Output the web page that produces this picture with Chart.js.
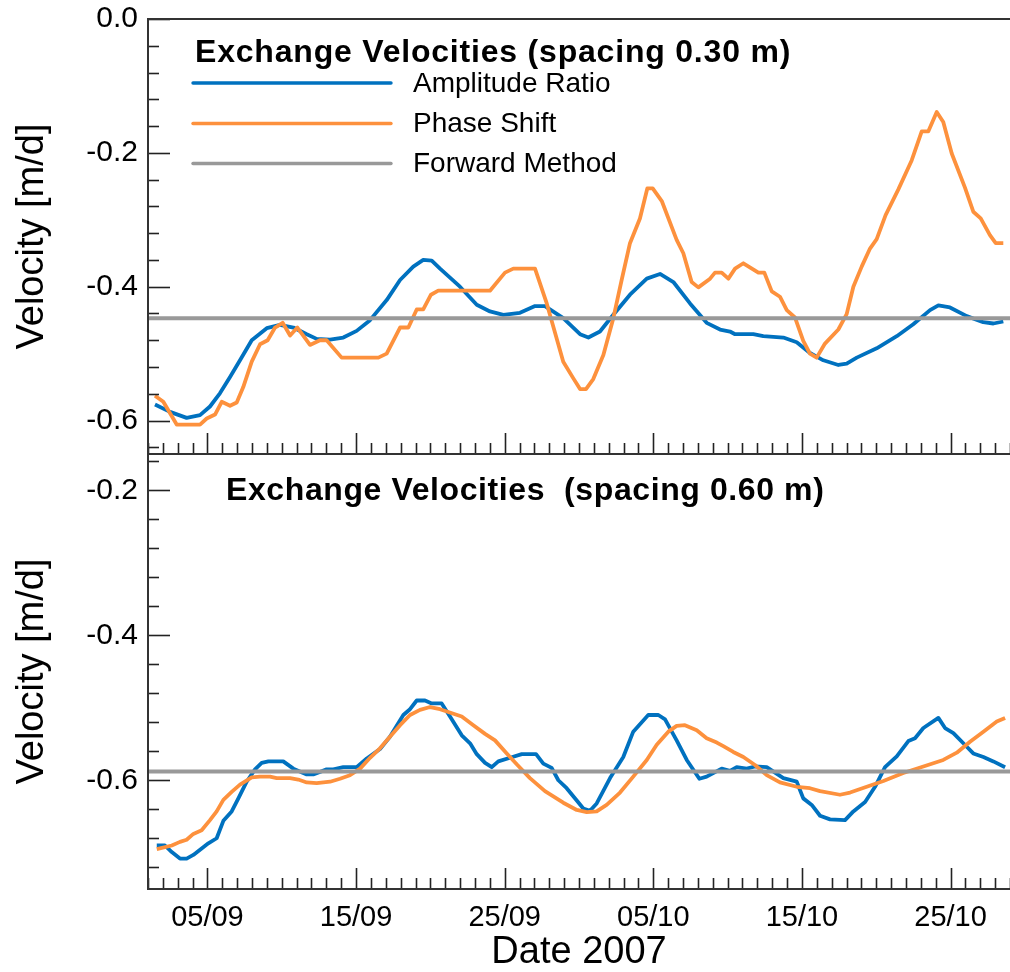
<!DOCTYPE html>
<html><head><meta charset="utf-8">
<script src="https://cdn.jsdelivr.net/npm/chart.js@4.4.1/dist/chart.umd.min.js"></script>
<style>html,body{margin:0;padding:0;background:#fff;}#wrap{position:relative;width:1010px;height:972px;}</style>
</head><body><div id="wrap"><canvas id="c" width="1010" height="972"></canvas></div>
<script>
// x values are days counted from 01/09/2007 00:00 (day 1); 35 = 05/10
const xTickValues = [5, 15, 25, 35, 45, 55];
const xTickLabels = ['05/09', '15/09', '25/09', '05/10', '15/10', '25/10'];
const yTopTickValues = [0, -0.2, -0.4, -0.6];
const yTopTickLabels = ['0.0', '-0.2', '-0.4', '-0.6'];
const yBotTickValues = [-0.2, -0.4, -0.6];
const yBotTickLabels = ['-0.2', '-0.4', '-0.6'];

const seriesNames = ['Amplitude Ratio', 'Phase Shift', 'Forward Method'];
const panelTitles = ['Exchange Velocities (spacing 0.30 m)', 'Exchange Velocities  (spacing 0.60 m)'];

// spacing 0.30 m
const topAmpDays = [1.47,2.48,3.60,4.50,5.17,5.85,6.52,7.19,7.98,8.99,
  9.88,10.78,11.68,12.35,13.25,14.14,15.04,15.94,17.06,17.96,
  18.85,19.52,20.09,20.65,21.99,23.12,24.01,24.91,26.03,27.04,
  27.71,28.94,30.07,30.63,31.41,32.31,33.43,34.56,35.45,36.35,
  37.47,38.59,39.49,40.16,40.50,41.73,42.40,43.75,44.65,45.54,
  46.44,47.45,48.01,48.69,50.03,51.38,52.49,53.62,54.18,54.96,
  56.09,57.20,57.88,58.55];
const topAmpVel = [-0.576,-0.587,-0.596,-0.592,-0.579,-0.559,-0.535,-0.510,-0.480,-0.462,
  -0.457,-0.461,-0.471,-0.478,-0.479,-0.476,-0.466,-0.450,-0.420,-0.390,
  -0.370,-0.360,-0.361,-0.373,-0.400,-0.427,-0.437,-0.442,-0.439,-0.429,
  -0.429,-0.447,-0.471,-0.476,-0.467,-0.442,-0.412,-0.388,-0.381,-0.393,
  -0.425,-0.454,-0.464,-0.467,-0.471,-0.471,-0.474,-0.476,-0.483,-0.499,
  -0.510,-0.517,-0.515,-0.506,-0.492,-0.474,-0.456,-0.435,-0.428,-0.431,
  -0.444,-0.453,-0.455,-0.452];
const topPhaseDays = [1.47,2.03,2.93,4.50,4.95,5.51,5.96,6.52,6.97,7.41,
  7.98,8.54,9.05,9.55,10.06,10.56,11.05,11.90,12.57,13.02,
  14.03,16.50,17.06,17.96,18.52,19.08,19.52,20.04,20.53,24.01,
  25.02,25.58,27.04,27.83,28.94,29.62,30.07,30.47,30.96,31.64,
  32.31,32.87,33.43,34.10,34.60,34.96,35.57,36.57,37.02,37.58,
  38.03,38.82,39.15,39.60,40.05,40.50,41.06,42.07,42.47,42.97,
  43.52,43.98,44.53,45.09,45.54,45.99,46.55,47.45,48.01,48.46,
  49.02,49.58,50.03,50.63,51.48,52.39,53.06,53.50,54.07,54.51,
  55.08,55.97,56.53,57.03,57.65,58.04,58.55];
const topPhaseVel = [-0.563,-0.572,-0.606,-0.606,-0.597,-0.591,-0.572,-0.578,-0.573,-0.550,
  -0.512,-0.486,-0.480,-0.461,-0.454,-0.473,-0.461,-0.487,-0.480,-0.480,
  -0.506,-0.506,-0.500,-0.461,-0.461,-0.434,-0.434,-0.412,-0.406,-0.406,
  -0.379,-0.373,-0.373,-0.425,-0.512,-0.537,-0.553,-0.553,-0.538,-0.502,
  -0.447,-0.390,-0.335,-0.298,-0.253,-0.253,-0.272,-0.330,-0.350,-0.393,
  -0.401,-0.388,-0.379,-0.379,-0.388,-0.373,-0.365,-0.379,-0.379,-0.407,
  -0.415,-0.435,-0.446,-0.481,-0.500,-0.506,-0.485,-0.464,-0.441,-0.400,
  -0.370,-0.343,-0.329,-0.293,-0.255,-0.211,-0.168,-0.168,-0.139,-0.154,
  -0.201,-0.252,-0.288,-0.298,-0.323,-0.335,-0.335];
const topForward = -0.447;

// spacing 0.60 m
const botAmpDays = [1.59,2.14,2.60,3.15,3.60,4.05,4.61,5.06,5.62,6.07,
  6.63,7.08,7.64,8.20,8.65,9.10,10.10,10.78,11.68,12.12,
  13.02,13.47,14.14,15.04,15.72,16.61,17.28,18.18,18.63,19.08,
  19.64,20.09,20.76,21.32,22.11,22.67,23.12,23.68,24.13,24.57,
  25.36,26.15,27.11,27.60,28.16,28.61,29.17,29.85,30.29,30.74,
  31.19,32.09,32.98,33.65,34.66,35.34,35.79,36.57,37.25,38.10,
  38.59,39.60,40.16,40.61,41.28,41.84,42.63,43.75,44.65,45.09,
  45.66,46.22,46.89,47.90,48.46,49.25,49.92,50.59,51.38,52.16,
  52.61,53.17,54.18,54.63,55.19,55.86,56.53,57.21,57.88,58.67];
const botAmpVel = [-0.690,-0.690,-0.699,-0.708,-0.708,-0.703,-0.694,-0.687,-0.680,-0.656,
  -0.643,-0.625,-0.602,-0.585,-0.576,-0.574,-0.574,-0.584,-0.592,-0.592,
  -0.585,-0.585,-0.582,-0.582,-0.570,-0.557,-0.540,-0.510,-0.502,-0.490,
  -0.490,-0.494,-0.494,-0.512,-0.538,-0.549,-0.564,-0.576,-0.582,-0.574,
  -0.569,-0.564,-0.564,-0.577,-0.583,-0.600,-0.611,-0.628,-0.639,-0.642,
  -0.632,-0.597,-0.568,-0.533,-0.510,-0.510,-0.516,-0.545,-0.572,-0.598,
  -0.595,-0.584,-0.587,-0.582,-0.584,-0.581,-0.582,-0.597,-0.602,-0.625,
  -0.634,-0.649,-0.654,-0.655,-0.643,-0.630,-0.609,-0.582,-0.567,-0.546,
  -0.542,-0.528,-0.514,-0.528,-0.535,-0.549,-0.563,-0.568,-0.574,-0.582];
const botPhaseDays = [1.59,2.60,3.15,3.60,4.05,4.61,5.17,5.62,6.07,6.63,
  7.19,7.98,8.54,9.21,9.66,10.56,11.11,11.68,12.35,13.25,
  13.92,14.59,15.27,15.94,16.61,17.28,17.96,18.63,19.30,19.98,
  20.65,22.11,22.89,23.68,24.35,25.14,25.81,26.70,27.71,28.94,
  29.85,30.52,31.19,31.86,32.76,33.65,34.56,35.23,36.01,36.57,
  37.13,37.92,38.59,39.27,39.71,40.38,41.06,41.84,42.63,43.52,
  44.65,45.54,46.22,47.56,48.24,49.36,50.48,51.82,53.17,54.51,
  55.42,56.31,57.21,58.11,58.67];
const botPhaseVel = [-0.695,-0.690,-0.685,-0.682,-0.674,-0.669,-0.655,-0.643,-0.627,-0.616,
  -0.606,-0.596,-0.595,-0.595,-0.597,-0.597,-0.599,-0.603,-0.604,-0.602,
  -0.598,-0.593,-0.584,-0.569,-0.556,-0.540,-0.524,-0.510,-0.503,-0.499,
  -0.502,-0.512,-0.524,-0.536,-0.545,-0.563,-0.578,-0.597,-0.615,-0.631,
  -0.641,-0.644,-0.643,-0.634,-0.617,-0.595,-0.572,-0.551,-0.533,-0.525,
  -0.524,-0.531,-0.542,-0.548,-0.553,-0.561,-0.568,-0.579,-0.593,-0.603,
  -0.609,-0.611,-0.615,-0.620,-0.617,-0.609,-0.601,-0.590,-0.581,-0.572,
  -0.562,-0.547,-0.533,-0.519,-0.514];
const botForward = -0.588;

const X_MIN = 1, X_MAX = 59;
const FONT = "'Liberation Sans', Arial, Helvetica, sans-serif";
const BLUE = '#0071bf', ORANGE = '#fd913d', GRAY = '#999999', AXIS = '#333333';

const pts = (xs, ys) => xs.map((x, i) => ({x: x, y: ys[i]}));
const flat = v => [{x: X_MIN, y: v}, {x: X_MAX, y: v}];

function lineDs(label, data, axis, color, order, width) {
  return {label: label, data: data, yAxisID: axis, borderColor: color, backgroundColor: color,
    borderWidth: width, pointRadius: 0, pointHoverRadius: 0, tension: 0, fill: false, order: order,
    borderJoinStyle: 'round', borderCapStyle: 'butt'};
}

const decor = {
  id: 'decor',
  afterDatasetsDraw(chart) {
    const ctx = chart.ctx;
    const {left, right} = chart.chartArea;
    const x = chart.scales.x, yTop = chart.scales.yTop, yBot = chart.scales.yBot;
    const tT = yTop.getPixelForValue(yTop.max), tB = yTop.getPixelForValue(yTop.min);
    const bT = yBot.getPixelForValue(yBot.max), bB = yBot.getPixelForValue(yBot.min);
    ctx.save();
    const seg = (x1, y1, x2, y2) => { ctx.beginPath(); ctx.moveTo(x1, y1); ctx.lineTo(x2, y2); ctx.stroke(); };
    // ticks
    ctx.strokeStyle = '#222'; ctx.lineWidth = 1.6;
    for (let d = Math.ceil(X_MIN); d <= X_MAX; d++) {
      const px = Math.round(x.getPixelForValue(d)) + 0.5;
      const len = xTickValues.includes(d) ? 21 : 11;
      seg(px, tB, px, tB - len);
      seg(px, bB, px, bB - len);
    }
    [yTop, yBot].forEach(s => {
      const i0 = Math.ceil(s.min / 0.04 - 1e-9), i1 = Math.floor(s.max / 0.04 + 1e-9);
      for (let i = i0; i <= i1; i++) {
        const py = Math.round(s.getPixelForValue(i * 0.04)) + 0.5;
        const len = (i % 5 === 0) ? 22 : 11;
        seg(left, py, left + len, py);
      }
    });
    // axis lines
    ctx.strokeStyle = AXIS; ctx.lineWidth = 2;
    seg(left, tT, right, tT);
    seg(left, tB, right, tB);
    seg(left, bB, right, bB);
    seg(left, tT - 1, left, bB + 1);
    // panel titles
    ctx.fillStyle = '#000';
    ctx.textBaseline = 'alphabetic'; ctx.textAlign = 'left';
    ctx.font = 'bold 32px ' + FONT;
    try { ctx.letterSpacing = '0.8px'; } catch (e) {}
    ctx.fillText(panelTitles[0], left + 47, tT + 43);
    try { ctx.letterSpacing = '0.6px'; } catch (e) {}
    ctx.fillText(panelTitles[1], left + 78, bT + 45.5);
    try { ctx.letterSpacing = '0px'; } catch (e) {}
    // legend
    const colors = [BLUE, ORANGE, GRAY];
    const rows = [64, 104.5, 144.5];
    ctx.font = '28px ' + FONT;
    ctx.textBaseline = 'middle';
    rows.forEach((ry, i) => {
      ctx.strokeStyle = colors[i]; ctx.lineWidth = 3.4; ctx.lineCap = 'round';
      seg(left + 45, tT + ry, left + 243, tT + ry);
      ctx.fillStyle = '#000';
      ctx.fillText(seriesNames[i], left + 265, tT + ry + 1);
    });
    ctx.restore();
  }
};

const yCommon = (min, max, vals, labels) => ({
  type: 'linear', position: 'left', stack: 'panels', stackWeight: 1, min: min, max: max,
  afterBuildTicks: s => { s.ticks = vals.map(v => ({value: v})); },
  afterFit: s => { s.width = 148; s.paddingTop = 0; s.paddingBottom = 0; },
  ticks: {
    autoSkip: false, padding: 10, color: '#000', font: {family: FONT, size: 30},
    callback: v => { const k = vals.findIndex(t => Math.abs(t - v) < 1e-9); return k >= 0 ? labels[k] : ''; }
  },
  grid: {display: false, drawTicks: false},
  border: {display: false},
  title: {display: true, text: 'Velocity [m/d]', color: '#000', font: {family: FONT, size: 38, lineHeight: 1.2}, padding: {top: 10, bottom: 0}}
});

new Chart(document.getElementById('c'), {
  type: 'line',
  data: {
    datasets: [
      lineDs(seriesNames[2], flat(topForward), 'yTop', GRAY, 0, 4),
      lineDs(seriesNames[1], pts(topPhaseDays, topPhaseVel), 'yTop', ORANGE, 1, 3.8),
      lineDs(seriesNames[0], pts(topAmpDays, topAmpVel), 'yTop', BLUE, 2, 3.8),
      lineDs(seriesNames[2], flat(botForward), 'yBot', GRAY, 0, 4),
      lineDs(seriesNames[1], pts(botPhaseDays, botPhaseVel), 'yBot', ORANGE, 1, 3.8),
      lineDs(seriesNames[0], pts(botAmpDays, botAmpVel), 'yBot', BLUE, 2, 3.8)
    ]
  },
  options: {
    responsive: false, animation: false, devicePixelRatio: 1,
    layout: {padding: {top: 19, left: 0, right: 0, bottom: 0}},
    plugins: {legend: {display: false}, tooltip: {enabled: false}, title: {display: false}},
    events: [],
    scales: {
      x: {
        type: 'linear', position: 'bottom', min: X_MIN, max: X_MAX,
        afterBuildTicks: s => { s.ticks = xTickValues.map(v => ({value: v})); },
        afterFit: s => { s.height = 83; s.paddingLeft = 0; s.paddingRight = 0; },
        ticks: {
          autoSkip: false, maxRotation: 0, padding: 12, color: '#000', font: {family: FONT, size: 29},
          callback: v => { const k = xTickValues.indexOf(v); return k >= 0 ? xTickLabels[k] : ''; }
        },
        grid: {display: false, drawTicks: false},
        border: {display: false},
        title: {display: true, text: 'Date 2007', color: '#000', font: {family: FONT, size: 38, lineHeight: 1}, padding: {top: 0, bottom: 0}}
      },
      yBot: yCommon(-0.75, -0.15, yBotTickValues, yBotTickLabels),
      yTop: yCommon(-0.65, 0, yTopTickValues, yTopTickLabels)
    }
  },
  plugins: [decor]
});
</script>
</body></html>
